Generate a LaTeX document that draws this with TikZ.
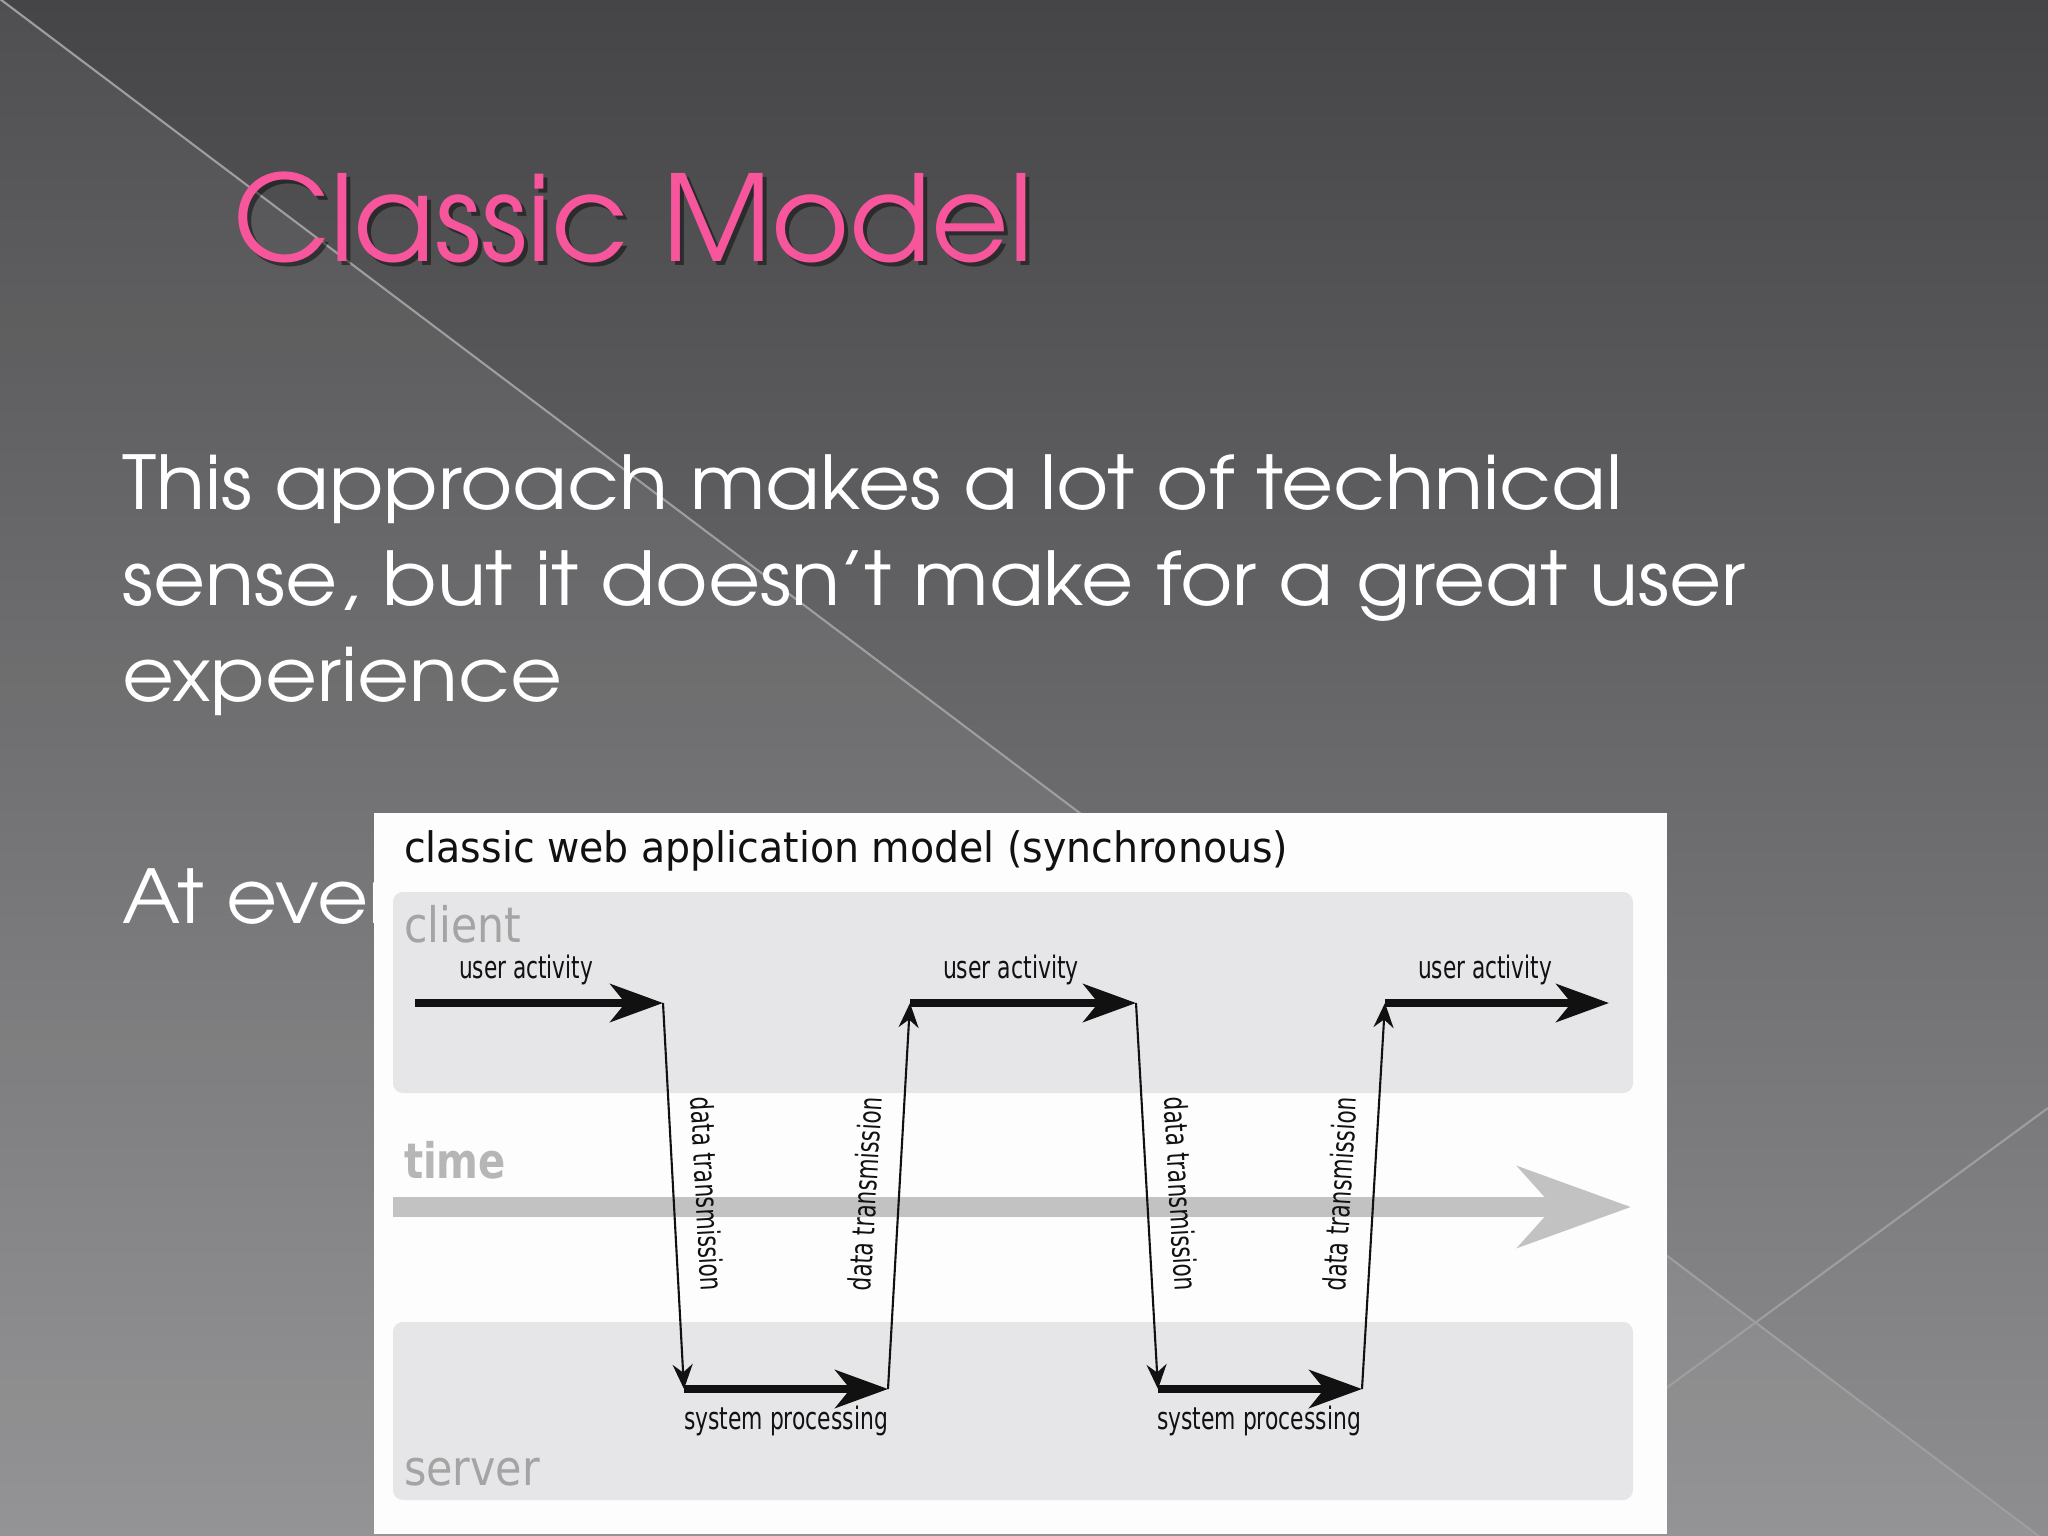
\documentclass[tikz,border=0pt]{standalone}
\usepackage{fontspec}
\usepackage{graphicx}
\usetikzlibrary{arrows.meta}
\newfontfamily\gothic{TeX Gyre Adventor}
\newfontfamily\dvs{DejaVu Sans}
\newlength\px
\setlength\px{0.01cm}
\newcommand\fitw[2]{\resizebox{#1\px}{\height}{#2}}
\definecolor{bgtop}{HTML}{454547}
\definecolor{bgbot}{HTML}{8E8E90}
\definecolor{pinktitle}{HTML}{F8569C}
\definecolor{bandgray}{HTML}{E6E6E8}
\definecolor{timegray}{HTML}{C2C2C2}
\definecolor{lanegray}{HTML}{A4A4A4}
\definecolor{timetxt}{HTML}{B6B6B6}
\definecolor{picwhite}{HTML}{FDFDFD}
\definecolor{diagline}{HTML}{9E9EA0}
\definecolor{inkblack}{HTML}{111111}
\tikzset{
  txt/.style={inner sep=0pt, outer sep=0pt, anchor=base west},
  slidetitle/.style={txt, font=\gothic\fontsize{33.9}{40}\selectfont},
  bodytxt/.style={txt, text=white, font=\gothic\fontsize{21.1}{25}\selectfont},
  diagtitle/.style={txt, text=inkblack, font=\dvs\fontsize{11.95}{14}\selectfont},
  lanetxt/.style={txt, text=lanegray, font=\dvs\fontsize{13.9}{16}\selectfont},
  smalltxt/.style={txt, text=inkblack, font=\dvs\fontsize{8.8}{10}\selectfont},
  vlabel/.style={inner sep=0pt, outer sep=0pt, sloped, midway, above=6.3pt, text=inkblack, font=\dvs\fontsize{8.8}{10}\selectfont},
  band/.style={fill=bandgray, draw=none, rounded corners=2.8pt},
  fatarrow/.style={draw=inkblack, line width=2.3pt, -{Stealth[length=15pt,width=10.8pt,inset=4.3pt]}},
  thinarrow/.style={draw=inkblack, line width=0.6pt, -{Stealth[length=7pt,width=5.7pt,inset=2.3pt]}},
  timearrow/.style={draw=timegray, line width=5.7pt, -{Stealth[length=32pt,width=22.8pt,inset=10pt]}},
  slideline/.style={draw=diagline, line width=0.6pt},
}
\begin{document}
\begin{tikzpicture}[x=0.01cm,y=-0.01cm]
\useasboundingbox (0,0) rectangle (2048,1536);
% slide background
\shade[top color=bgtop, bottom color=bgbot] (0,0) rectangle (2048,1536);
\fill[white, opacity=0.06] (0,-1) -- (2038,1536) -- (0,1536) -- cycle;
\draw[slideline] (0,-1) -- (2048,1543);
\draw[slideline] (1560,1466) -- (2048,1108);
% slide title with shadow
\node[slidetitle, text=black, opacity=0.45] (titleshadow) at (237,265) {\fitw{800}{Classic Model}};
\node[slidetitle, text=pinktitle] (title) at (233,261) {\fitw{800}{Classic Model}};
% body text
\node[bodytxt] (line1) at (122,509) {\fitw{1500}{This approach makes a lot of technical}};
\node[bodytxt] (line2) at (122,605) {\fitw{1624}{sense, but it doesn’t make for a great user}};
\node[bodytxt] (line3) at (122,701) {\fitw{440}{experience}};
\node[bodytxt] (line4) at (122,923) {\fitw{270}{At ever}};
% picture
\fill[picwhite] (374,813) rectangle (1667,1534);
\node[diagtitle] (dtitle) at (404,862) {\fitw{884}{classic web application model (synchronous)}};
\fill[band] (393,892) rectangle (1633,1093);
\fill[band] (393,1322) rectangle (1633,1500);
\node[lanetxt] (client) at (404,942) {\fitw{117}{client}};
\node[lanetxt, text=timetxt, font=\dvs\bfseries\fontsize{13.9}{16}\selectfont] (time) at (404,1178) {\fitw{102}{time}};
\node[lanetxt] (server) at (404,1485) {\fitw{136}{server}};
% time axis
\coordinate (t0) at (393,1207);
\coordinate (t1) at (1631,1207);
\draw[timearrow] (t0) -- (t1);
% client / server points
\coordinate (c1s) at (415,1003);
\coordinate (c1e) at (663,1003);
\coordinate (s1s) at (684,1389);
\coordinate (s1e) at (888,1389);
\coordinate (c2s) at (910,1003);
\coordinate (c2e) at (1136,1003);
\coordinate (s2s) at (1158,1389);
\coordinate (s2e) at (1362,1389);
\coordinate (c3s) at (1385,1003);
\coordinate (c3e) at (1609,1003);
% thick arrows
\draw[fatarrow] (c1s) -- (c1e);
\draw[fatarrow] (c2s) -- (c2e);
\draw[fatarrow] (c3s) -- (c3e);
\draw[fatarrow] (s1s) -- (s1e);
\draw[fatarrow] (s2s) -- (s2e);
% data transmissions
\draw[thinarrow] (c1e) -- node[vlabel] (dt1) {\fitw{194}{data transmission}} (s1s);
\draw[thinarrow] (s1e) -- node[vlabel] (dt2) {\fitw{194}{data transmission}} (c2s);
\draw[thinarrow] (c2e) -- node[vlabel] (dt3) {\fitw{194}{data transmission}} (s2s);
\draw[thinarrow] (s2e) -- node[vlabel] (dt4) {\fitw{194}{data transmission}} (c3s);
% labels
\node[smalltxt] (ua1) at (459,978) {\fitw{134}{user activity}};
\node[smalltxt] (ua2) at (943,978) {\fitw{136}{user activity}};
\node[smalltxt] (ua3) at (1418,978) {\fitw{134}{user activity}};
\node[smalltxt] (sp1) at (684,1429) {\fitw{204}{system processing}};
\node[smalltxt] (sp2) at (1157,1429) {\fitw{204}{system processing}};
\end{tikzpicture}
\end{document}
